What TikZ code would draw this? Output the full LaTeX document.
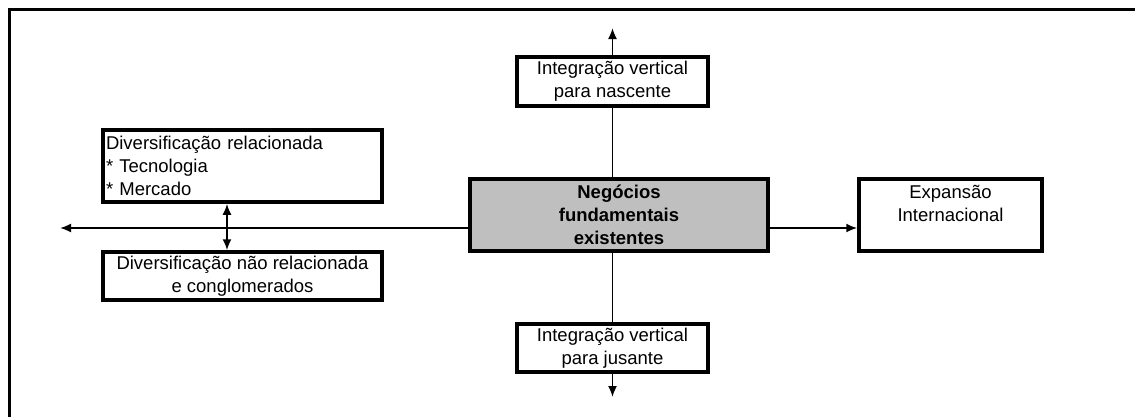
\documentclass[tikz,border=0pt]{standalone}
\usepackage{fontspec}
\setmainfont{Liberation Sans}
\usetikzlibrary{calc,arrows.meta}

\begin{document}
\begin{tikzpicture}[x=1pt,y=-1pt]
        \tikzstyle{boite} = [rectangle, draw=black, line width=3.5pt, fill=white, inner sep=3pt, font=\fontsize{18.5}{23}\selectfont, align=center]
        \tikzstyle{boite_noyau} = [boite, fill=black!25, font=\fontsize{18.5}{23}\selectfont\bfseries, minimum width=298pt, minimum height=72pt]
        \tikzstyle{fleche} = [line width=1.8pt, -{Latex[length=11pt,width=9pt]}]
        \tikzstyle{trait} = [line width=1.8pt]
        \useasboundingbox (0,0) rectangle (1135,416);
        \draw[line width=3pt] (1140,9.5) -| (9,420);

        \node (negocios) [boite_noyau] at (619,215) {Negócios\\fundamentais\\existentes};
        \node (integ_nascente) [boite, above of=negocios, node distance=133.5pt, xshift=-6.5pt, minimum width=191pt, minimum height=49pt] {Integração vertical\\para nascente};
        \node (integ_jusante) [boite, below of=negocios, node distance=133pt, xshift=-6.5pt, minimum width=191pt, minimum height=48pt] {Integração vertical\\para jusante};
        \node (expansao) [boite, right of=negocios, node distance=331.5pt, minimum width=183pt, minimum height=72pt] {Expansão\\Internacional\\\mbox{}};
        \node (divers_rel) [boite, left of=negocios, node distance=376.5pt, yshift=49pt, minimum height=72pt, text width=273pt, align=left] {Diversificação relacionada\\{}* Tecnologia\\{}* Mercado};
        \node (divers_nao_rel) [boite, below of=divers_rel, node distance=110pt, minimum width=279pt, minimum height=48pt] {Diversificação não relacionada\\e conglomerados};

        \coordinate (fin_haut) at (612.5,28);
        \coordinate (fin_bas) at (612.5,397);
        \coordinate (fin_gauche) at (60,228);
        \draw[fleche] (integ_nascente.north) -- (integ_nascente.north |- fin_haut);
        \draw[trait] (integ_nascente.south) -- (integ_nascente.south |- negocios.north);
        \draw[trait] (integ_jusante.north |- negocios.south) -- (integ_jusante.north);
        \draw[fleche] (integ_jusante.south) -- (integ_jusante.south |- fin_bas);
        \draw[fleche] (negocios.west |- fin_gauche) -- (fin_gauche);
        \draw[fleche] (negocios.east |- fin_gauche) -- (expansao.west |- fin_gauche);
        \draw[trait, {Latex[length=11pt,width=9pt]}-{Latex[length=11pt,width=9pt]}] ($(divers_rel.south)+(-15.5,0)$) -- ($(divers_nao_rel.north)+(-15.5,0)$);
\end{tikzpicture}
\end{document}
